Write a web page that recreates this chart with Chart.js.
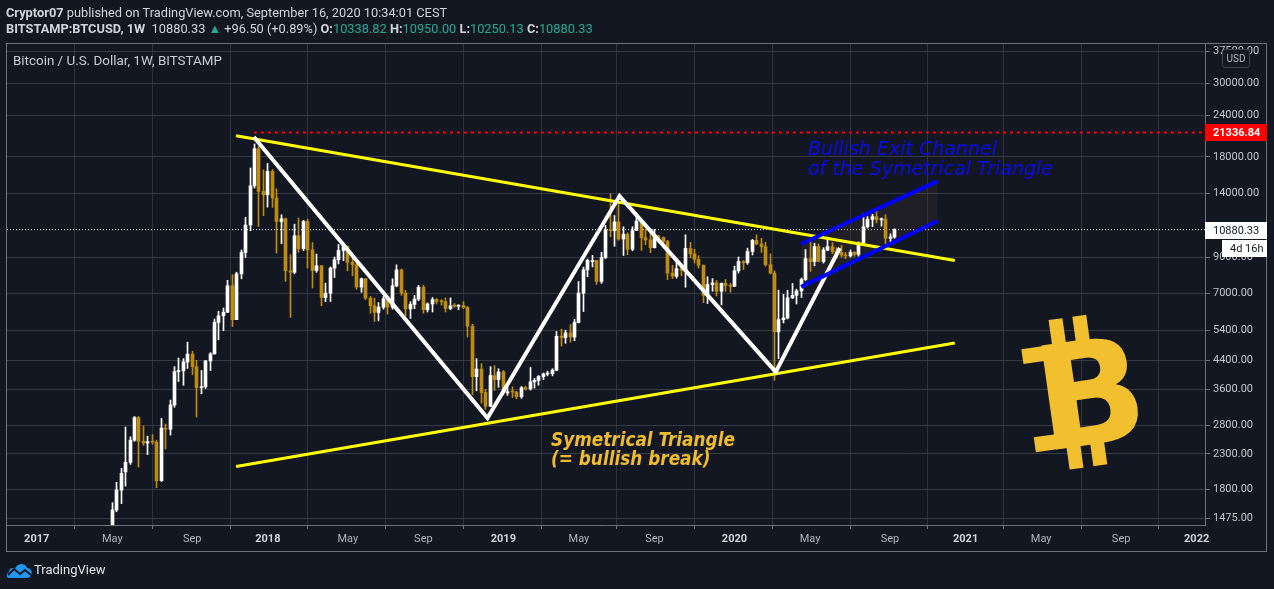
<!DOCTYPE html>
<html>
<head>
<meta charset="utf-8">
<script src="https://cdn.jsdelivr.net/npm/chart.js@4.4.0/dist/chart.umd.min.js"></script>
<style>
  body { margin: 0; background: #131722; }
  #wrap { position: relative; width: 1274px; height: 589px; overflow: hidden; font-family: Roboto, "Liberation Sans", sans-serif; }
  #c { position: absolute; left: 0; top: 0; }
  .txt { position: absolute; white-space: nowrap; color: #d1d4dc; line-height: 16px; }
  .up { color: #22ab94; }
</style>
</head>
<body>
<div id="wrap">
  <canvas id="c" width="1274" height="589"></canvas>
  <div class="txt" style="left:6px;top:5px;font-size:12.8px"><b>Cryptor07</b> published on TradingView.com, September 16, 2020 10:34:01 CEST</div>
  <div class="txt" style="left:6px;top:21px;font-size:12.8px"><b>BITSTAMP:BTCUSD, 1W</b>&nbsp; 10880.33 <span class="up">&#9650;</span> +96.50 (+0.89%) <b>O:</b><span class="up">10338.82</span> <b>H:</b><span class="up">10950.00</span> <b>L:</b><span class="up">10250.13</span> <b>C:</b><span class="up">10880.33</span></div>
  <div class="txt" style="left:13px;top:53px;font-size:13.4px;color:#c8cbd3">Bitcoin / U.S. Dollar, 1W, BITSTAMP</div>
  <svg style="position:absolute;left:6px;top:562px" width="27" height="16" viewBox="0 0 27 16">
    <path d="M3 16 C0 16 0 11 3 10 C3 6 7 5 9 7 C11 1 19 0 21 6 C25 6 27 10 25 13 C24 15 23 16 21 16 Z" fill="#2196f3"/>
    <polyline points="2,13 8,7 14,12 19,8 25,13" stroke="#131722" stroke-width="2" fill="none"/>
  </svg>
  <div class="txt" style="left:34px;top:562px;font-size:13px;color:#e0e3eb">TradingView</div>
</div>
<script>
// weekly bars, first bar week of 2017-05-01 (BITSTAMP BTCUSD 1W)
const firstWeek = '2017-05-01';

const open17 = [1348,1560,1790,2030,2170,2530,2960,2510,2480,2510,2495,1910,2750,2730,3230,4070,4090,4350,4590,4210,3640,3660,4380,4600,5720,5990,6140,7370,5830,8010,9290,11230,14750,19060,14180];
const high17 = [1640,1890,2080,2770,2590,2980,2980,2790,2600,2630,2530,2940,2830,3340,4210,4470,4450,4990,4680,4400,4100,4400,4640,5860,6180,6320,7660,7960,8100,9450,11840,16680,19700,19380,16480];
const low17 = [1340,1540,1630,1840,2140,2510,2100,2440,2290,2460,1820,1900,2380,2620,3180,3800,3700,4160,3980,2970,3490,3620,4100,4590,5070,5400,6120,5560,5830,7740,8970,10800,14520,11120,11980];
const close17 = [1560,1790,2010,2170,2530,2960,2510,2480,2505,2495,1910,2750,2730,3230,4070,4090,4350,4590,4210,3640,3660,4380,4600,5720,5990,6140,7370,5830,8010,9290,11230,14750,19060,14180,13850];

const open18 = [13850,16290,13550,11510,11730,8180,8100,10430,9530,11510,9460,8200,8470,6800,7010,8335,8830,9417,9680,8680,8540,7310,7740,6770,6420,6130,6360,6740,6360,7373,8235,7007,6284,6480,6720,7300,6250,6500,6700,6620,6600,6300,6420,6400,6430,6340,5570,3930,4140,3520,3200,3960,3850];
const high18 = [17200,16500,14450,12060,11800,9140,11300,11790,11600,11700,9950,9185,8500,7510,8400,9000,9820,9910,9700,8930,8600,7780,7760,6850,6770,6560,6850,6800,7740,8525,8280,7150,6600,6900,7400,7410,6550,6800,6750,6700,6780,6780,6520,6470,6600,6400,5650,4450,4300,3600,4210,4240,4150];
const low18 = [12720,12700,9250,9870,7600,5920,8010,9300,9400,8340,7260,8100,6420,6610,6610,7810,8580,8770,8180,7900,7200,7050,6700,6100,5760,5780,6270,6060,6270,7320,6900,5990,5880,6290,6650,6100,6150,6150,6500,6450,6150,6250,6350,6250,6300,5170,3470,3560,3270,3130,3190,3570,3650];
const close18 = [16290,13550,11510,11730,8180,8100,10430,9530,11510,9460,8200,8470,6800,7010,8335,8830,9417,9680,8670,8540,7310,7740,6770,6420,6130,6360,6740,6360,7373,8235,7007,6284,6480,6720,7300,6250,6500,6700,6620,6600,6300,6420,6400,6430,6340,5570,3930,4140,3520,3200,3960,3850,4060];

const open19 = [4060,3510,3540,3530,3420,3640,3610,3790,3830,3930,4000,4010,4110,5200,5150,5320,5170,5716,7007,8235,8720,8790,7600,8970,10860,10800,11480,10200,10540,9500,10820,11550,10290,10130,9600,10400,10300,10030,8050,7880,8300,8220,9550,9200,8850,8500,6900,7440,7520,7100,7500,7390];
const high19 = [4100,3650,3660,3550,3670,3680,4195,3880,3960,4030,4080,4150,5370,5460,5420,5640,5850,7595,8392,8870,9100,8800,9300,11200,13950,12000,13100,11100,10650,11100,12200,11600,10900,10600,10900,10480,10350,10100,8500,8650,8420,10500,9960,9500,9080,8520,7850,7750,7650,7520,7700,7500];
const low19 = [3460,3450,3400,3370,3380,3580,3580,3630,3700,3850,3950,3950,4090,4860,4950,4990,5040,5700,6170,7850,8400,7450,7500,8900,10350,9700,10100,9100,9150,9400,10800,9420,9800,9270,9580,9940,9600,7700,7750,7780,7900,7300,8940,8630,8335,6560,6520,7100,6870,6460,7100,7050];
const close19 = [3510,3540,3530,3420,3640,3610,3790,3830,3930,4000,4010,4110,5200,5150,5320,5170,5716,7007,8235,8800,8790,7600,8970,10860,10800,11480,10200,10540,9500,10800,11550,10290,10130,9600,10400,10300,10030,8050,7880,8300,8220,9550,9200,8850,8500,6900,7440,7520,7100,7500,7390,7350];

const open20 = [7350,8180,8720,8650,9350,10100,9850,9670,8530,8050,5360,5830,5900,6780,6900,7120,7700,8900,8720,9680,8720,9450,9670,9340,9300,9120,9070,9300,9170,9930,11100,11680,11900,11650,11700,10250,10338.82];
const high20 = [8450,9000,8780,9570,10180,10500,10250,9970,9200,8180,7150,6950,7150,7500,7200,7780,9480,10050,9900,9850,9600,10330,9950,9600,9750,9300,9450,9350,10000,12170,11900,12100,12450,11800,12060,10580,10950];
const low20 = [7340,8050,8250,8560,9130,9800,9300,8450,8010,3830,4450,5700,5860,6750,6500,6800,7650,8150,8470,8800,8630,9400,9200,8900,9000,8900,9000,9050,9050,9900,11000,11100,11400,11150,9870,9880,10250.13];
const close20 = [8180,8720,8650,9350,10100,9850,9670,8530,8050,5360,5830,5900,6780,6900,7120,7700,8900,8720,9680,8720,9450,9670,9340,9300,9120,9070,9300,9170,9930,11100,11680,11900,11650,11700,10250,10340,10880.33];

// drawings (date, price)
const upperTrend = [['2017-11-12', 20850], ['2020-12-18', 8790]];
const lowerTrend = [['2017-11-12', 2108], ['2020-12-18', 4960]];
const zigzag = [['2017-12-10', 20680], ['2018-12-13', 2950], ['2019-07-09', 13730], ['2020-03-11', 4060], ['2020-06-20', 9580]];
const channelTop = [['2020-04-20', 9850], ['2020-11-21', 15230]];
const channelBottom = [['2020-04-20', 7320], ['2020-11-21', 11550]];
const resistanceStart = '2017-12-10';
const resistancePrice = 21336.84;
const lastPrice = 10880.33;

const timeLabels = ['2017','May','Sep','2018','May','Sep','2019','May','Sep','2020','May','Sep','2021','May','Sep','2022'];
const timeMonths = ['2017-01','2017-05','2017-09','2018-01','2018-05','2018-09','2019-01','2019-05','2019-09','2020-01','2020-05','2020-09','2021-01','2021-05','2021-09','2022-01'];
const priceTicks = [1475, 1800, 2300, 2800, 3600, 4400, 5400, 7000, 9000, 14000, 18000, 24000, 30000, 37500];

const weekOpen = open17.concat(open18, open19, open20);
const weekHigh = high17.concat(high18, high19, high20);
const weekLow = low17.concat(low18, low19, low20);
const weekClose = close17.concat(close18, close19, close20);

const DAY = 86400000;
const ORIGIN = Date.UTC(2017, 0, 1);
function dayOf(s) { return (Date.parse(s + 'T00:00:00Z') - ORIGIN) / DAY; }
function firstMonday(ym) {
  const d = new Date(ym + '-01T00:00:00Z');
  return (d.getTime() - ORIGIN) / DAY + (8 - d.getUTCDay()) % 7;
}
function pts(arr) { return arr.map(p => ({ x: dayOf(p[0]), y: p[1] })); }

const X_MIN = -45.8, X_MAX = 1841.1;
const Y_MIN = 1405.3, Y_MAX = 39660;

const week0 = dayOf(firstWeek);
const wicks = weekOpen.map((o, i) => ({ x: week0 + 7 * i, y: [weekLow[i], weekHigh[i]] }));
const bodies = weekOpen.map((o, i) => ({ x: week0 + 7 * i, y: [o, weekClose[i]] }));
const candleColor = c => weekClose[c.dataIndex] >= weekOpen[c.dataIndex] ? '#ffffff' : '#bf8c0d';
const tickDays = timeMonths.map(firstMonday);

const GOLD = '#f2c02f';

const snapBars = {
  id: 'snapBars',
  beforeDatasetsDraw(chart) {
    [3, 4].forEach(k => chart.getDatasetMeta(k).data.forEach(el => { el.x = Math.floor(el.x) + 0.5; }));
  }
};

const drawings = {
  id: 'drawings',
  afterDatasetsDraw(chart) {
    const c = chart.ctx;
    c.save();
    c.textBaseline = 'alphabetic';
    c.textAlign = 'left';
    c.fillStyle = '#0a0ae6';
    c.font = 'oblique 19px "DejaVu Sans"';
    c.fillText('Bullish Exit Channel', 808, 155);
    c.fillText('of the Symetrical Triangle', 808, 174.5);
    c.fillStyle = '#f0bc2e';
    c.font = 'italic bold 18.8px "DejaVu Sans Condensed", "DejaVu Sans"';
    c.fillText('Symetrical Triangle', 551, 446);
    c.fillText('(= bullish break)', 551, 465);

    // bitcoin sign
    c.translate(1090, 392);
    c.rotate(-0.14);
    c.fillStyle = GOLD;
    c.font = 'bold 144px "DejaVu Sans"';
    c.textAlign = 'center';
    c.fillText('B', 0, 52);
    c.fillRect(-62, -52, 28, 15);
    c.fillRect(-62, 37, 28, 15);
    c.fillRect(-31, -77, 14, 27);
    c.fillRect(-7, -77, 14, 27);
    c.fillRect(-31, 50, 14, 24);
    c.fillRect(-7, 50, 14, 24);
    c.restore();
  }
};

const priceLabels = {
  id: 'priceLabels',
  afterDraw(chart) {
    const c = chart.ctx;
    const a = chart.chartArea;
    const ys = chart.scales.y;
    c.save();
    c.textBaseline = 'middle';
    c.textAlign = 'left';
    // frame
    c.strokeStyle = '#6f727d';
    c.lineWidth = 1;
    c.strokeRect(6.5, 43.5, 1260, 508);

    let py = Math.round(ys.getPixelForValue(resistancePrice));
    c.fillStyle = '#ff0000';
    c.fillRect(a.right, py - 8, 62, 17);
    c.fillStyle = '#ffffff';
    c.font = 'bold 11px Roboto';
    c.fillText(resistancePrice.toFixed(2), a.right + 8, py + 1);

    py = Math.round(ys.getPixelForValue(lastPrice));
    c.fillStyle = '#ffffff';
    c.fillRect(a.right, py - 8, 62, 17);
    c.fillRect(a.right + 17, py + 10, 45, 17);
    c.fillStyle = '#131722';
    c.font = '11px Roboto';
    c.fillText(lastPrice.toFixed(2), a.right + 8, py + 1);
    c.fillText('4d 16h', a.right + 25, py + 19);

    // currency badge
    c.fillStyle = '#131722';
    c.strokeStyle = '#434651';
    c.beginPath();
    c.roundRect(1222.5, 49.5, 27, 18, 3);
    c.fill();
    c.stroke();
    c.fillStyle = '#b2b5be';
    c.font = '10px Roboto';
    c.textAlign = 'center';
    c.fillText('USD', 1236, 59);
    c.restore();
  }
};

new Chart(document.getElementById('c'), {
  type: 'bar',
  data: {
    datasets: [
      { type: 'line', data: [{ x: X_MIN, y: lastPrice }, { x: X_MAX, y: lastPrice }], borderColor: '#ffffff', borderWidth: 1, borderDash: [1, 2], pointRadius: 0, order: 20 },
      { type: 'line', data: pts(channelBottom), borderWidth: 0, pointRadius: 0, fill: false, order: 15 },
      { type: 'line', data: pts(channelTop), borderWidth: 0, pointRadius: 0, fill: '-1', backgroundColor: 'rgba(80, 62, 52, 0.22)', order: 15 },
      { data: wicks, backgroundColor: candleColor, barThickness: 1, grouped: false, borderWidth: 0, order: 12 },
      { data: bodies, backgroundColor: candleColor, barThickness: 3, grouped: false, borderWidth: 0, minBarLength: 1, order: 11 },
      { type: 'line', data: pts(upperTrend), borderColor: '#ffff00', borderWidth: 3, pointRadius: 0, order: 4 },
      { type: 'line', data: pts(lowerTrend), borderColor: '#ffff00', borderWidth: 3, pointRadius: 0, order: 4 },
      { type: 'line', data: pts(zigzag), borderColor: '#ffffff', borderWidth: 4, pointRadius: 0, order: 3 },
      { type: 'line', data: pts(channelTop), borderColor: '#0000ff', borderWidth: 4, pointRadius: 0, order: 2 },
      { type: 'line', data: pts(channelBottom), borderColor: '#0000ff', borderWidth: 4, pointRadius: 0, order: 2 },
      { type: 'line', data: [{ x: dayOf(resistanceStart), y: resistancePrice }, { x: X_MAX, y: resistancePrice }], borderColor: '#ff0000', borderWidth: 2, borderDash: [3, 4], pointRadius: 0, order: 1 }
    ]
  },
  options: {
    responsive: false,
    animation: false,
    events: [],
    layout: { padding: { left: 7, right: 7, top: 43, bottom: 37 } },
    plugins: { legend: { display: false }, tooltip: { enabled: false } },
    scales: {
      x: {
        type: 'linear', min: X_MIN, max: X_MAX, offset: false, bounds: 'data',
        afterBuildTicks: s => { s.ticks = tickDays.map(v => ({ value: v })); },
        afterFit: s => { s.height = 27; },
        ticks: {
          autoSkip: false, maxRotation: 0, padding: 4,
          color: c => /^\d/.test(timeLabels[c.index]) ? '#d1d4dc' : '#b2b5be',
          font: c => ({ family: 'Roboto', size: 11, weight: /^\d/.test(timeLabels[c.index]) ? 'bold' : 'normal' }),
          callback: (v, i) => timeLabels[i]
        },
        grid: { color: '#2f333f', tickLength: 4, tickColor: '#6f727d' },
        border: { display: true, color: '#6f727d' }
      },
      y: {
        type: 'logarithmic', position: 'right', min: Y_MIN, max: Y_MAX, bounds: 'data',
        afterBuildTicks: s => { s.ticks = priceTicks.map(v => ({ value: v })); },
        afterFit: s => { s.width = 62; },
        ticks: { autoSkip: false, padding: 3, color: '#c3c6ce', font: { family: 'Roboto', size: 11 }, callback: v => Number(v).toFixed(2) },
        grid: { color: '#363a45', tickLength: 5, tickColor: '#6f727d' },
        border: { display: true, color: '#6f727d' }
      }
    }
  },
  plugins: [snapBars, drawings, priceLabels]
});
</script>
</body>
</html>
